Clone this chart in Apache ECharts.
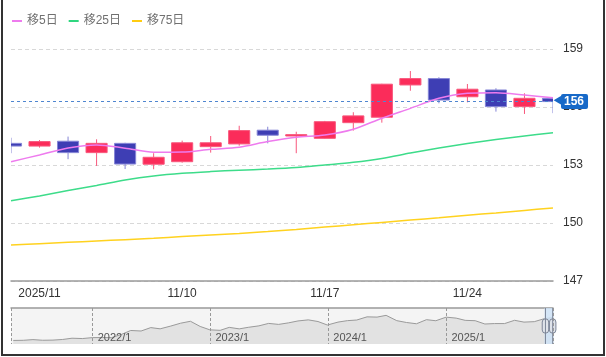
<!DOCTYPE html>
<html>
<head>
<meta charset="utf-8">
<script src="https://cdn.jsdelivr.net/npm/echarts@6/dist/echarts.min.js"></script>
<style>
  html, body { margin: 0; padding: 0; background: #fff; }
  #wrap { position: relative; width: 606px; height: 357px; overflow: hidden; }
  #chart { position: absolute; left: 0; top: 0; width: 606px; height: 357px; }
  #frame { position: absolute; left: 1px; top: -2px; width: 604px; height: 358px; box-sizing: border-box; border: 2px solid #333; pointer-events: none; }
</style>
</head>
<body>
<div id="wrap"><div id="chart"></div><div id="frame"></div></div>
<script>
// ---- data ----
const dates = ['2025/10/31','2025/11/03','2025/11/04','2025/11/05','2025/11/06','2025/11/07',
  '2025/11/10','2025/11/11','2025/11/12','2025/11/13','2025/11/14',
  '2025/11/17','2025/11/18','2025/11/19','2025/11/20','2025/11/21',
  '2025/11/24','2025/11/25','2025/11/26','2025/11/27'];
const opens  = [154.12,153.98,154.23,153.64,154.12,153.04,153.17,153.95,154.09,154.80,154.50,154.38,155.19,155.47,157.14,157.47,156.53,156.88,156.02,156.45];
const closes = [153.98,154.21,153.64,154.12,153.05,153.40,154.15,154.15,154.78,154.54,154.57,155.24,155.54,157.18,157.47,156.36,156.92,156.02,156.45,156.28];
const lows   = [153.61,153.90,153.30,152.95,152.79,152.78,153.12,153.64,154.00,154.12,153.61,154.36,154.78,155.19,156.84,156.19,156.24,155.76,155.64,155.68];
const highs  = [154.41,154.29,154.47,154.33,154.15,153.61,154.26,154.50,155.03,154.98,154.72,155.28,155.73,157.20,157.86,157.54,157.19,156.97,156.71,156.47];
const ma5  = [153.17,153.52,153.88,154.04,153.87,153.66,153.67,153.81,153.92,154.21,154.43,154.55,154.85,155.42,155.93,156.45,156.71,156.74,156.62,156.48];
const ma25 = [151.15,151.40,151.68,151.94,152.22,152.43,152.57,152.66,152.73,152.79,152.87,153.00,153.14,153.34,153.62,153.88,154.11,154.32,154.50,154.67];
const ma75 = [148.86,148.93,149.00,149.07,149.14,149.21,149.30,149.38,149.46,149.56,149.67,149.79,149.91,150.03,150.15,150.27,150.40,150.52,150.65,150.78];
const lastPrice = 156.28;
const seriesNames = ['移5日','移25日','移75日'];
const xTickDates  = ['2025/11/03','2025/11/10','2025/11/17','2025/11/24'];
const xTickLabels = ['2025/11','11/10','11/17','11/24'];

// overview (navigator) history, month ends
const overviewDates = [
 '2021-04-30','2021-05-31','2021-06-30','2021-07-30','2021-08-31','2021-09-30','2021-10-29','2021-11-30','2021-12-31',
 '2022-01-31','2022-02-28','2022-03-31','2022-04-29','2022-05-31','2022-06-30','2022-07-29','2022-08-31','2022-09-30','2022-10-31','2022-11-30','2022-12-30',
 '2023-01-31','2023-02-28','2023-03-31','2023-04-28','2023-05-31','2023-06-30','2023-07-31','2023-08-31','2023-09-29','2023-10-31','2023-11-30','2023-12-29',
 '2024-01-31','2024-02-29','2024-03-29','2024-04-30','2024-05-31','2024-06-28','2024-07-31','2024-08-30','2024-09-30','2024-10-31','2024-11-29','2024-12-31',
 '2025-01-31','2025-02-28','2025-03-31','2025-04-30','2025-05-30','2025-06-30','2025-07-31','2025-08-29','2025-09-30','2025-10-31','2025-11-27'];
const overviewValues = [
 109.3,109.6,111.0,109.7,110.0,111.3,113.9,113.2,115.1,
 115.3,115.0,121.7,129.8,128.7,135.7,133.2,138.9,144.7,148.7,138.1,131.1,
 130.1,136.2,133.1,136.3,139.3,144.3,142.3,145.5,149.4,151.6,148.2,141.0,
 147.0,150.0,151.3,157.8,157.3,160.9,150.0,146.2,143.6,152.0,149.8,157.2,
 155.2,150.6,149.9,143.1,144.0,144.0,150.7,147.0,147.9,154.0,156.3];

// ---- chart ----
const ohlc = dates.map((d, i) => [i, opens[i], closes[i], lows[i], highs[i]]);
const FONT = "Arial, 'Liberation Sans', 'Noto Sans CJK JP', sans-serif";
const UP = '#fb2c5a', UP_B = '#f8577c', DN = '#3e3eb4', DN_B = '#8585d6';
const chart = echarts.init(document.getElementById('chart'), null, { renderer: 'canvas' });

function renderCandle(params, api) {
  const i = api.value(0);
  const o = api.value(1), c = api.value(2), l = api.value(3), h = api.value(4);
  const pO = api.coord([i, o]), pC = api.coord([i, c]);
  const pL = api.coord([i, l]), pH = api.coord([i, h]);
  const w = api.size([1, 0])[0] * 0.74;
  const up = c >= o;
  const top = Math.min(pO[1], pC[1]), bot = Math.max(pO[1], pC[1]);
  const stroke = up ? UP_B : DN_B;
  return {
    type: 'group',
    children: [
      { type: 'line', shape: { x1: pH[0], y1: pH[1], x2: pH[0], y2: top }, style: { stroke: stroke, lineWidth: 1 } },
      { type: 'line', shape: { x1: pL[0], y1: bot, x2: pL[0], y2: pL[1] }, style: { stroke: stroke, lineWidth: 1 } },
      { type: 'rect', shape: { x: pO[0] - w / 2, y: top, width: w, height: Math.max(bot - top, 1) },
        style: { fill: up ? UP : DN, stroke: stroke, lineWidth: 1 } }
    ]
  };
}

const option = {
  animation: false,
  backgroundColor: '#fff',
  textStyle: { fontFamily: FONT },
  legend: {
    left: 12, top: 15, padding: 0, itemWidth: 10, itemHeight: 2, itemGap: 11, icon: 'rect',
    data: seriesNames,
    textStyle: { color: '#707070', fontSize: 12, fontFamily: FONT }
  },
  grid: [
    { left: 11, right: 53, top: -9, bottom: 76, outerBoundsMode: 'none', containLabel: false },
    { left: 11, right: 53, top: 308, height: 36, show: true, backgroundColor: '#f4f4f4', borderWidth: 0, outerBoundsMode: 'none' }
  ],
  xAxis: [
    {
      type: 'category', gridIndex: 0, data: dates, boundaryGap: false,
      axisLine: { lineStyle: { color: '#9a9a9a', width: 1.5 } },
      axisTick: { show: false },
      splitLine: { show: false },
      axisLabel: {
        color: '#333', fontSize: 12, margin: 7,
        interval: (idx, val) => xTickDates.indexOf(val) >= 0,
        formatter: (val) => { const k = xTickDates.indexOf(val); return k >= 0 ? xTickLabels[k] : ''; }
      }
    },
    {
      type: 'time', gridIndex: 1, z: 5,
      min: '2021-04-23', max: '2025-11-27',
      minInterval: 365 * 24 * 3600 * 1000, maxInterval: 366 * 24 * 3600 * 1000,
      axisLine: { show: false }, axisTick: { show: false },
      splitLine: { show: true, lineStyle: { color: '#999', type: [3, 2], width: 1 } },
      axisLabel: {
        inside: true, margin: 1, color: '#555', fontSize: 11, align: 'left', padding: [0, 0, 0, 5],
        showMinLabel: false, showMaxLabel: false,
        formatter: (v) => { const d = new Date(v); return d.getFullYear() + '/' + (d.getMonth() + 1); }
      }
    },
    {
      type: 'category', gridIndex: 1, data: overviewDates, boundaryGap: false, position: 'top',
      axisLine: { show: true, lineStyle: { color: '#999', width: 1.5 } },
      axisTick: { show: false }, axisLabel: { show: false }, splitLine: { show: false }
    }
  ],
  yAxis: [
    {
      type: 'value', gridIndex: 0, position: 'right', min: 147, max: 162, interval: 3,
      axisLine: { show: false }, axisTick: { show: false },
      splitLine: { show: true, lineStyle: { color: '#d8d8d8', type: [4, 3], width: 1 } },
      axisLabel: { color: '#333', fontSize: 12, margin: 10 }
    },
    {
      type: 'value', gridIndex: 1, min: 102, max: 176, show: false
    }
  ],
  dataZoom: [
    {
      type: 'slider', xAxisIndex: 2, left: 11, right: 53, top: 308, height: 36,
      start: 98.3, end: 100, filterMode: 'none',
      showDataShadow: false, showDetail: false, brushSelect: false,
      backgroundColor: 'rgba(0,0,0,0)', borderColor: 'rgba(0,0,0,0)',
      fillerColor: 'rgba(205,226,248,0.8)',
      handleIcon: 'path://M0,0V100M-9,39a9,9 0 0 1 18,0v22a9,9 0 0 1 -18,0Z',
      handleSize: '100%',
      handleStyle: { color: '#dfe3ea', borderColor: '#7d8698', borderWidth: 1 },
      moveHandleSize: 0
    }
  ],
  series: [
    {
      name: 'price', type: 'custom', xAxisIndex: 0, yAxisIndex: 0,
      data: ohlc, renderItem: renderCandle, clip: true,
      encode: { x: 0, y: [1, 2, 3, 4] },
      markLine: {
        silent: true, symbol: ['none', 'none'],
        lineStyle: { color: '#4f86d0', type: [3, 3], width: 1 },
        label: {
          position: 'end', distance: 0,
          formatter: (p) => '{a|◀}{b|' + Math.round(p.value) + '}',
          rich: {
            a: { color: '#1769c8', fontSize: 10, padding: [0, -2, 0, 0] },
            b: { backgroundColor: '#1769c8', color: '#fff', fontSize: 12, fontWeight: 'bold', padding: [2, 4, 1, 3], borderRadius: 2 }
          }
        },
        data: [{ yAxis: lastPrice }]
      }
    },
    {
      name: seriesNames[0], type: 'line', data: ma5, smooth: 0.3, symbol: 'none',
      lineStyle: { color: '#ee7bee', width: 1.5 }, itemStyle: { color: '#ee7bee' }
    },
    {
      name: seriesNames[1], type: 'line', data: ma25, smooth: 0.3, symbol: 'none',
      lineStyle: { color: '#3ddc8a', width: 1.5 }, itemStyle: { color: '#2fd67f' }
    },
    {
      name: seriesNames[2], type: 'line', data: ma75, smooth: 0.3, symbol: 'none',
      lineStyle: { color: '#ffd21f', width: 1.5 }, itemStyle: { color: '#ffcc11' }
    },
    {
      name: 'overview', type: 'line', xAxisIndex: 1, yAxisIndex: 1,
      data: overviewDates.map((d, i) => [d, overviewValues[i]]),
      symbol: 'none', silent: true,
      lineStyle: { color: '#9a9a9a', width: 1 },
      areaStyle: { color: '#e2e2e2', opacity: 1 }
    },
    {
      name: 'overviewDummy', type: 'line', xAxisIndex: 2, yAxisIndex: 1,
      data: overviewValues, symbol: 'none', silent: true,
      lineStyle: { opacity: 0 }
    }
  ]
};
chart.setOption(option);
</script>
</body>
</html>
